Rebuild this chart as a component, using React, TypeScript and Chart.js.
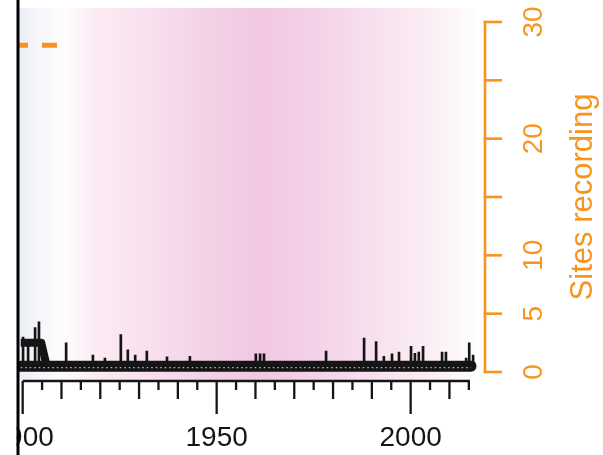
import React, { useEffect, useRef } from "react";
import { Chart, registerables } from "chart.js";

Chart.register(...registerables);

// ---- data ----
const yearMin = 1899;
const yearMax = 2017;

// number of sites recording (dashed orange series)
const sitesYears = [1899, 1901, 1903, 1905, 1907, 1909];
const sitesCounts = [28, 28, 28, 28, 28, 28];

// continuous record level
const baseYears = [1899.5, 2015.6];
const baseLevel = [0.5, 0.5];
const lowerTraceLevel = [0.38, 0.38];

// early raised section of the record
const stepYears = [1899.5, 1904.8, 1906.2];
const stepLevel = [2.5, 2.5, 0.5];

// individual peaks above the record level
const spikeYears = [
  1900.1, 1901.4, 1903.2, 1904.2, 1911.2, 1918.1, 1921.2, 1925.3, 1927.1, 1929.0,
  1932.0, 1937.2, 1943.1, 1960.1, 1961.2, 1962.2, 1978.2, 1988.0, 1991.1, 1993.1,
  1995.2, 1997.0, 2000.1, 2001.1, 2002.1, 2003.2, 2008.1, 2009.1, 2014.3, 2015.1,
  2016.1,
];
const spikeLevels = [
  3.0, 2.4, 3.8, 4.3, 2.5, 1.45, 1.2, 3.2, 1.9, 1.45,
  1.8, 1.3, 1.35, 1.55, 1.55, 1.55, 1.8, 2.9, 2.6, 1.35,
  1.55, 1.7, 2.2, 1.6, 1.7, 2.2, 1.7, 1.7, 1.2, 2.5,
  1.45,
];

// axis ticks
const yearTickFirst = 1900;
const yearTickLast = 2015;
const yearLabels = [1900, 1950, 2000];
const sitesTicks = [0, 5, 10, 15, 20, 25, 30];
const sitesTickLabels = ["0", "5", "10", "", "20", "", "30"];
const sitesTitle = "Sites recording";

// ---- styles ----
const ORANGE = "#f7941d";
const INK = "#151515";
const FONT = '"Liberation Sans", Arial, Helvetica, sans-serif';

// background band colour through time
const bandStops: [number, string][] = [
  [1899.0, "#eceff6"],
  [1900.5, "#eef1f7"],
  [1904.5, "#f6f7fb"],
  [1910.5, "#fefcfd"],
  [1919.9, "#fbeaf3"],
  [1932.8, "#f8e0ee"],
  [1945.7, "#f4d3e8"],
  [1961.2, "#f1c7e2"],
  [1976.6, "#f4d3e9"],
  [1992.1, "#f8e2ef"],
  [2005.0, "#fbeef5"],
  [2015.3, "#fefbfd"],
  [2017.0, "#ffffff"],
];

const pts = (xs: number[], ys: number[]) => xs.map((x, i) => ({ x, y: ys[i] }));

const backgroundBand = {
  id: "backgroundBand",
  beforeDatasetsDraw(chart: any) {
    const { ctx, chartArea: a, scales } = chart;
    const xs = scales.x;
    const w = a.right - a.left;
    const g = ctx.createLinearGradient(a.left, 0, a.right, 0);
    bandStops.forEach(([yr, c]) => {
      const t = Math.min(1, Math.max(0, (xs.getPixelForValue(yr) - a.left) / w));
      g.addColorStop(t, c);
    });
    ctx.save();
    ctx.fillStyle = g;
    ctx.fillRect(a.left, a.top, w, a.bottom - a.top);
    ctx.restore();
  },
};

const axesPainter = {
  id: "axesPainter",
  afterDraw(chart: any) {
    const { ctx, chartArea: a, scales, height } = chart;
    const xs = scales.x;
    const ys = scales.y;
    ctx.save();

    // bottom year axis
    const axisY = a.bottom + 1;
    ctx.strokeStyle = INK;
    ctx.lineWidth = 2.3;
    ctx.lineCap = "butt";
    ctx.beginPath();
    ctx.moveTo(xs.getPixelForValue(yearTickFirst), axisY);
    ctx.lineTo(xs.getPixelForValue(yearTickLast) + 1, axisY);
    ctx.stroke();
    for (let yr = yearTickFirst; yr <= yearTickLast; yr += 5) {
      const len = yr % 50 === 0 ? 33 : yr % 10 === 0 ? 18 : 9;
      const px = xs.getPixelForValue(yr);
      ctx.beginPath();
      ctx.moveTo(px, axisY);
      ctx.lineTo(px, axisY + len);
      ctx.stroke();
    }
    ctx.fillStyle = INK;
    ctx.font = `28px ${FONT}`;
    ctx.textAlign = "center";
    ctx.textBaseline = "alphabetic";
    yearLabels.forEach((yr) => {
      ctx.fillText(String(yr), xs.getPixelForValue(yr), 446);
    });

    // right sites axis
    const ax = 485;
    ctx.strokeStyle = ORANGE;
    ctx.lineWidth = 2.6;
    ctx.beginPath();
    ctx.moveTo(ax, ys.getPixelForValue(sitesTicks[0]) + 1.3);
    ctx.lineTo(ax, ys.getPixelForValue(sitesTicks[sitesTicks.length - 1]) - 1.3);
    ctx.stroke();
    sitesTicks.forEach((v) => {
      const py = ys.getPixelForValue(v);
      ctx.beginPath();
      ctx.moveTo(ax - 1.3, py);
      ctx.lineTo(ax + 17, py);
      ctx.stroke();
    });
    ctx.fillStyle = ORANGE;
    ctx.font = `28px ${FONT}`;
    ctx.textAlign = "center";
    ctx.textBaseline = "alphabetic";
    sitesTicks.forEach((v, i) => {
      const lab = sitesTickLabels[i];
      if (!lab) return;
      ctx.save();
      ctx.translate(542, ys.getPixelForValue(v));
      ctx.rotate(-Math.PI / 2);
      ctx.fillText(lab, 0, 0);
      ctx.restore();
    });
    ctx.font = `31px ${FONT}`;
    ctx.save();
    ctx.translate(592, ys.getPixelForValue(15));
    ctx.rotate(-Math.PI / 2);
    ctx.fillText(sitesTitle, 0, 0);
    ctx.restore();

    // panel edge on the left
    ctx.fillStyle = "#ffffff";
    ctx.fillRect(0, 0, 16.5, height);
    ctx.fillStyle = "#000000";
    ctx.fillRect(16.5, 0, 3, height);
    ctx.restore();
  },
};

export default function App() {
  const ref = useRef<HTMLCanvasElement | null>(null);

  useEffect(() => {
    if (!ref.current) return;
    const chart = new Chart(ref.current, {
      type: "line",
      data: {
        datasets: [
          {
            type: "line",
            data: pts(sitesYears, sitesCounts),
            borderColor: ORANGE,
            borderWidth: 5,
            borderDash: [15, 14],
            borderDashOffset: 5.8,
            pointRadius: 0,
            tension: 0,
            order: 1,
          },
          {
            type: "bar",
            data: spikeYears.map((x, i) => ({ x, y: [baseLevel[0], spikeLevels[i]] })),
            backgroundColor: INK,
            borderWidth: 0,
            barThickness: 2,
            grouped: false,
            order: 4,
          } as any,
          {
            type: "line",
            data: pts(stepYears, stepLevel),
            borderColor: INK,
            borderWidth: 8,
            borderJoinStyle: "round",
            borderCapStyle: "butt",
            pointRadius: 0,
            tension: 0,
            order: 3,
          },
          {
            type: "line",
            data: pts(baseYears, baseLevel),
            borderColor: INK,
            borderWidth: 11,
            borderCapStyle: "round",
            pointRadius: 0,
            tension: 0,
            order: 3,
          },
          {
            type: "line",
            data: pts(baseYears, lowerTraceLevel),
            borderColor: "rgba(255,255,255,0.7)",
            borderWidth: 1.3,
            borderDash: [1.5, 3],
            pointRadius: 0,
            tension: 0,
            order: 2,
          },
        ],
      },
      options: {
        responsive: false,
        animation: false,
        events: [],
        layout: { padding: { left: 18.8, top: 8, right: 603 - 476.6, bottom: 455 - 380 } },
        plugins: { legend: { display: false }, tooltip: { enabled: false } },
        scales: {
          x: { type: "linear", min: yearMin, max: yearMax, display: false, offset: false },
          y: { type: "linear", min: -0.686, max: 31.2, display: false },
        },
      },
      plugins: [backgroundBand, axesPainter],
    });
    return () => chart.destroy();
  }, []);

  return (
    <div style={{ position: "fixed", left: 0, top: 0, width: 603, height: 455, background: "#fff" }}>
      <canvas ref={ref} width={603} height={455} style={{ display: "block", width: 603, height: 455 }} />
    </div>
  );
}
